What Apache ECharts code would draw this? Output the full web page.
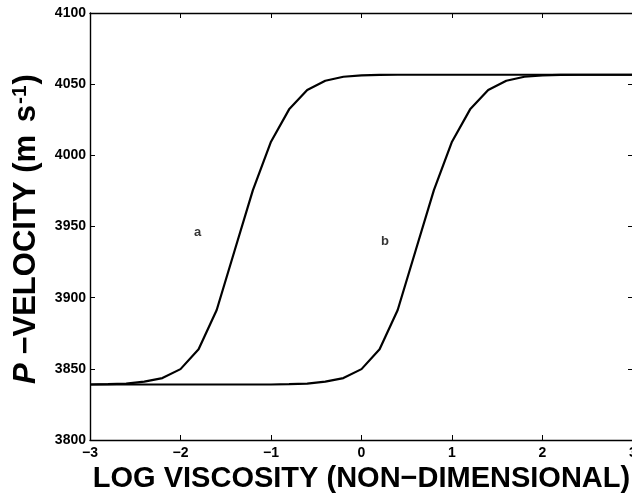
<!DOCTYPE html>
<html>
<head>
<meta charset="utf-8">
<script src="https://cdn.jsdelivr.net/npm/echarts@6/dist/echarts.min.js"></script>
<style>
  html, body { margin: 0; padding: 0; background: #fff; }
  #chart { width: 632px; height: 496px; }
</style>
</head>
<body>
<div id="chart"></div>
<script>
// log viscosity sample points (non-dimensional)
const logViscosity = [
  -3.0, -2.8, -2.6, -2.4, -2.2, -2.0, -1.8, -1.6, -1.4, -1.2, -1.0,
  -0.8, -0.6, -0.4, -0.2, 0.0, 0.2, 0.4, 0.6, 0.8, 1.0,
  1.2, 1.4, 1.6, 1.8, 2.0, 2.2, 2.4, 2.6, 2.8, 3.0
];
// P-velocity, case a (m/s)
const velocityA = [
  3839.0, 3839.2, 3839.6, 3841.0, 3843.5, 3849.8, 3863.8, 3891.3, 3933.5, 3975.6, 4009.6,
  4032.3, 4045.9, 4052.4, 4055.2, 4056.2, 4056.5, 4056.6, 4056.6, 4056.6, 4056.6,
  4056.6, 4056.6, 4056.6, 4056.6, 4056.6, 4056.6, 4056.6, 4056.6, 4056.6, 4056.6
];
// P-velocity, case b (m/s)
const velocityB = [
  3839.0, 3839.0, 3839.0, 3839.0, 3839.0, 3839.0, 3839.0, 3839.0, 3839.0, 3839.0, 3839.0,
  3839.2, 3839.6, 3841.0, 3843.5, 3849.8, 3863.8, 3891.3, 3933.5, 3975.6, 4009.6,
  4032.3, 4045.9, 4052.4, 4055.2, 4056.2, 4056.5, 4056.6, 4056.6, 4056.6, 4056.6
];
// curve annotations: [name, x, y]
const curveLabels = [
  ['a', -1.81, 3945.5],
  ['b', 0.26, 3939.8]
];

const FONT = '"Liberation Sans", Arial, Helvetica, sans-serif';
const minusSign = v => String(v).replace('-', '\u2212');

const chart = echarts.init(document.getElementById('chart'), null, { renderer: 'canvas' });

const axisLine = { show: true, onZero: false, lineStyle: { color: '#000', width: 1.4 } };
const axisTick = { show: true, inside: true, length: 5, lineStyle: { color: '#000', width: 1 } };
const tickLabel = { color: '#000', fontFamily: FONT, fontWeight: 'bold', fontSize: 14 };

chart.setOption({
  backgroundColor: '#fff',
  animation: false,
  grid: { left: 90, right: -1, top: 13, bottom: 56, outerBoundsMode: 'none', containLabel: false },
  xAxis: [
    {
      type: 'value', min: -3, max: 3, interval: 1, position: 'bottom',
      axisLine: axisLine, axisTick: axisTick,
      axisLabel: Object.assign({ margin: 6, formatter: minusSign, hideOverlap: false }, tickLabel),
      splitLine: { show: false },
      name: 'LOG VISCOSITY (NON\u2212DIMENSIONAL)',
      nameLocation: 'middle', nameGap: 21,
      nameTextStyle: { color: '#000', fontFamily: FONT, fontWeight: 'bold', fontSize: 29, verticalAlign: 'top' }
    },
    {
      type: 'value', min: -3, max: 3, interval: 1, position: 'top',
      axisLine: axisLine, axisTick: axisTick,
      axisLabel: { show: false }, splitLine: { show: false }
    }
  ],
  yAxis: [
    {
      type: 'value', min: 3800, max: 4100, interval: 50, position: 'left',
      axisLine: axisLine, axisTick: axisTick,
      axisLabel: Object.assign({ margin: 4, formatter: v => String(v) }, tickLabel),
      splitLine: { show: false },
      name: '{i|P} \u2212VELOCITY (m {s|s}{sup|-1})',
      nameLocation: 'middle', nameGap: 47, nameRotate: 90,
      nameTextStyle: {
        color: '#000', fontFamily: FONT, fontWeight: 'bold', fontSize: 31,
        padding: [0, 5, 0, 0],
        rich: {
          i: { fontFamily: FONT, fontWeight: 'bold', fontStyle: 'italic', fontSize: 31, color: '#000' },
          s: { fontFamily: FONT, fontWeight: 'bold', fontSize: 31, color: '#000', padding: [0, 1, 0, 4] },
          sup: { fontFamily: FONT, fontWeight: 'bold', fontSize: 21, color: '#000', verticalAlign: 'top', padding: [0, 1, 12, 0] }
        }
      }
    },
    {
      type: 'value', min: 3800, max: 4100, interval: 50, position: 'right',
      axisLine: axisLine, axisTick: axisTick,
      axisLabel: { show: false }, splitLine: { show: false }
    }
  ],
  series: [
    {
      name: 'a', type: 'line', xAxisIndex: 0, yAxisIndex: 0,
      showSymbol: false, silent: true,
      lineStyle: { color: '#000', width: 2.2 },
      data: logViscosity.map((x, i) => [x, velocityA[i]])
    },
    {
      name: 'b', type: 'line', xAxisIndex: 0, yAxisIndex: 0,
      showSymbol: false, silent: true,
      lineStyle: { color: '#000', width: 2.2 },
      data: logViscosity.map((x, i) => [x, velocityB[i]])
    },
    {
      name: 'labels', type: 'scatter', xAxisIndex: 0, yAxisIndex: 0,
      symbolSize: 0, silent: true,
      label: {
        show: true, position: 'inside', formatter: p => p.data[0],
        color: '#000', fontFamily: FONT, fontWeight: 'bold', fontSize: 13
      },
      data: curveLabels.map(d => [d[0], d[1], d[2]]),
      encode: { x: 1, y: 2 }
    }
  ]
});
</script>
</body>
</html>
